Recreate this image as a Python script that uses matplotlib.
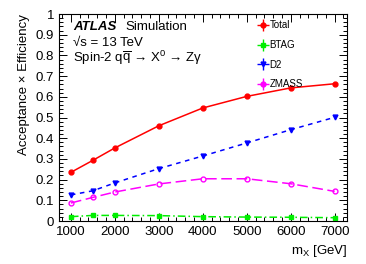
import numpy as np
import matplotlib.pyplot as plt
from matplotlib.lines import Line2D
from matplotlib.legend_handler import HandlerTuple
from matplotlib.ticker import MultipleLocator

plt.rcParams['font.family'] = ['Liberation Sans', 'DejaVu Sans']
plt.rcParams['mathtext.fontset'] = 'custom'
plt.rcParams['mathtext.rm'] = 'Liberation Sans'
plt.rcParams['mathtext.it'] = 'Liberation Sans:italic'

mass = [1000, 1500, 2000, 3000, 4000, 5000, 6000, 7000]
total = [0.235, 0.293, 0.353, 0.460, 0.546, 0.602, 0.643, 0.663]
btag = [0.021, 0.027, 0.027, 0.026, 0.021, 0.019, 0.018, 0.016]
d2 = [0.126, 0.146, 0.184, 0.253, 0.314, 0.377, 0.441, 0.501]
zmass = [0.087, 0.114, 0.140, 0.179, 0.204, 0.204, 0.180, 0.143]

fig = plt.figure(figsize=(3.66, 2.64), dpi=100)
ax = fig.add_axes([59 / 366, 1 - 221 / 264, (347 - 59) / 366, (221 - 14) / 264])

ax.plot(mass, total, color='red', ls='-', lw=1.1, marker='o', ms=3.5)
ax.plot(mass, btag, color='#00ee00', ls=(0, (5, 2, 1, 2)), lw=1.1, marker='s', ms=3.5)
ax.plot(mass, d2, color='blue', ls=(0, (3, 3)), lw=1.1, marker='v', ms=3.5)
ax.plot(mass, zmass, color='magenta', ls=(0, (7, 3)), lw=1.1, marker='o', ms=3.5,
        mfc='none')

ax.set_xlim(730, 7280)
ax.set_ylim(0, 1)
ax.xaxis.set_major_locator(MultipleLocator(1000))
ax.xaxis.set_minor_locator(MultipleLocator(200))
ax.yaxis.set_major_locator(MultipleLocator(0.1))
ax.yaxis.set_minor_locator(MultipleLocator(0.02))
ax.tick_params(which='both', direction='in', top=True, right=True, labelsize=9.5, width=0.7)
ax.tick_params(which='major', length=6)
ax.tick_params(which='minor', length=3)
ax.set_yticks(np.arange(0, 1.01, 0.1))
ax.set_yticklabels(['0', '0.1', '0.2', '0.3', '0.4', '0.5', '0.6', '0.7', '0.8', '0.9', '1'])
for s in ax.spines.values():
    s.set_linewidth(0.8)

ax.set_ylabel('Acceptance × Efficiency', fontsize=9.5, loc='top')
ax.set_xlabel('m$_{\\mathrm{X}}$ [GeV]', fontsize=9.5, loc='right')

ax.text(0.05, 0.937, 'ATLAS', transform=ax.transAxes, fontsize=9.5,
        fontweight='bold', style='italic', va='center')
ax.text(0.23, 0.937, 'Simulation', transform=ax.transAxes, fontsize=9.5, va='center')
ax.text(0.05, 0.862, '\u221as = 13 TeV', transform=ax.transAxes,
        fontsize=9.5, va='center')
ax.text(0.05, 0.79, 'Spin-2 q$\\overline{\\mathrm{q}}$ \u2192 X$^{0}$ \u2192 Z\u03b3',
        transform=ax.transAxes, fontsize=9.5, va='center')

names = ['Total', 'BTAG', 'D2', 'ZMASS']
colors = ['red', '#00ee00', 'blue', 'magenta']
shapes = ['o', 's', 'v', 'o']
handles = []
for c, m in zip(colors, shapes):
    h1 = Line2D([], [], color=c, marker='+', ms=9, mew=1, ls='none')
    h2 = Line2D([], [], color=c, marker=m, ms=3.5, ls='none')
    handles.append((h1, h2))
ax.legend(handles, names, handler_map={tuple: HandlerTuple(ndivide=1)},
          loc='upper left', bbox_to_anchor=(0.66, 1.012), frameon=False,
          fontsize=7, handlelength=1.0, handletextpad=0.2, labelspacing=1.0)

fig.savefig('out.png', dpi=100)
